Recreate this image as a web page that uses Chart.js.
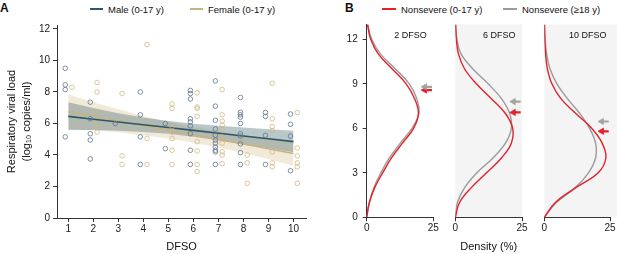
<!DOCTYPE html>
<html><head><meta charset="utf-8">
<script src="https://cdn.jsdelivr.net/npm/chart.js@4/dist/chart.umd.min.js"></script>
<style>
html,body{margin:0;padding:0;background:#fff;}
body{width:617px;height:254px;position:relative;overflow:hidden;font-family:"Liberation Sans",Arial,Helvetica,sans-serif;}
canvas{position:absolute;top:0;}
.t{position:absolute;white-space:nowrap;color:#111;}
.leg{position:absolute;white-space:nowrap;font-size:9.5px;line-height:11px;color:#111;}
.sw{position:absolute;height:2px;}
.letter{position:absolute;font-weight:bold;font-size:12px;line-height:14px;color:#111;}
</style></head><body>
<div class="letter" style="left:0;top:1px">A</div>
<div class="letter" style="left:345px;top:1px">B</div>
<div id="legA"></div>
<div id="legB"></div>
<canvas id="cA" width="320" height="254" style="left:0"></canvas>
<canvas id="cB1" width="110" height="254" style="left:340px"></canvas>
<canvas id="cB2" width="95" height="254" style="left:445px"></canvas>
<canvas id="cB3" width="83" height="254" style="left:534px"></canvas>
<script>
// ================= DATA =================
// Panel A: days from symptom onset and viral loads (log10 copies/ml)
const dfso = [1, 2, 3, 4, 5, 6, 7, 8, 9, 10];
const seriesA = ['Male (0-17 y)', 'Female (0-17 y)'];
const maleVL = [
  [9.5, 8.45, 8.15, 5.15],
  [7.35, 6.3, 5.35, 4.95, 3.75],
  [6.0],
  [8.0, 6.55, 5.15, 3.4],
  [6.0, 4.4],
  [8.1, 7.9, 7.55, 6.3, 6.1, 5.85, 5.35, 4.3, 3.4],
  [8.7, 7.1, 6.2, 5.65, 5.25, 4.95, 4.75, 4.5, 4.3, 4.2, 3.4],
  [7.65, 6.7, 6.55, 6.4, 6.0, 5.35, 5.2, 4.7, 4.15, 3.4],
  [6.7, 6.45, 5.25, 3.4],
  [6.6, 5.95, 5.2, 3.0]
];
const femaleVL = [
  [8.3],
  [8.6, 8.0, 6.75, 5.9, 5.45],
  [7.9, 3.95, 3.4],
  [11.0, 5.05, 3.4],
  [7.25, 6.95, 5.8, 5.45, 5.05, 4.3, 3.4],
  [7.95, 7.05, 6.95, 6.45, 4.85, 4.25, 3.4, 2.95],
  [8.15, 6.55, 6.15, 5.9, 5.6, 5.15, 4.75, 4.2, 4.0, 3.45],
  [4.0, 3.5, 2.2],
  [8.55, 6.3, 5.8, 5.55, 4.2, 3.5, 3.25],
  [6.7, 4.45, 3.95, 3.5, 3.25, 2.2]
];
// fitted trends and 95% bands (read at each DFSO)
const maleFit   = [6.45, 6.27, 6.09, 5.92, 5.74, 5.56, 5.38, 5.20, 5.03, 4.85];
const maleHi    = [7.35, 6.98, 6.65, 6.38, 6.15, 5.98, 5.85, 5.74, 5.63, 5.53];
const maleLo    = [5.58, 5.58, 5.54, 5.46, 5.34, 5.16, 4.92, 4.66, 4.42, 4.17];
const femaleFit = [6.75, 6.46, 6.16, 5.87, 5.57, 5.28, 4.98, 4.69, 4.39, 4.10];
const femaleHi  = [7.85, 7.35, 6.90, 6.48, 6.10, 5.78, 5.50, 5.26, 5.05, 4.88];
const femaleLo  = [5.65, 5.57, 5.44, 5.26, 5.04, 4.78, 4.47, 4.12, 3.73, 3.32];
const xTicksA = [1, 2, 3, 4, 5, 6, 7, 8, 9, 10];
const yTicksA = [0, 2, 4, 6, 8, 10, 12];

// Panel B: density (%) of viral load at given DFSO
const seriesB = ['Nonsevere (0-17 y)', 'Nonsevere (\u226518 y)'];
const panelsB = ['2 DFSO', '6 DFSO', '10 DFSO'];
const loadGrid = [0, 1, 2, 3, 4, 5, 6, 7, 8, 9, 10, 11, 12, 13];
const childDens2  = [0, 1.0, 3.0, 6.0, 9.3, 13.4, 17.6, 19.4, 18.0, 14.8, 9.6, 4.4, 1.5, 0.3];
const adultDens2  = [0, 1.0, 2.7, 5.3, 8.5, 12.6, 17.0, 19.6, 18.8, 16.0, 10.8, 5.2, 1.9, 0.4];
const childDens6  = [0, 1.6, 6.0, 11.7, 17.3, 21.0, 21.5, 18.8, 13.5, 7.9, 3.5, 1.2, 0.4, 0.1];
const adultDens6  = [0, 0.8, 3.5, 8.1, 14.1, 18.8, 21.0, 20.4, 17.3, 12.3, 6.6, 2.2, 0.6, 0.1];
const childDens10 = [0, 4.2, 12.0, 20.5, 23.4, 22.0, 18.0, 12.0, 6.3, 2.9, 1.2, 0.5, 0.2, 0.05];
const adultDens10 = [0, 4.6, 11.8, 16.8, 19.5, 19.5, 17.2, 13.5, 8.8, 4.8, 2.2, 0.9, 0.3, 0.1];
const childMean = [8.58, 7.07, 5.8];
const adultMean = [8.8, 7.8, 6.46];
const xTicksB = [0, 25];
const yTicksB = [0, 3, 6, 9, 12];

// ================= STYLE =================
const FONT = '"Liberation Sans", Arial, Helvetica, sans-serif';
Chart.defaults.font.family = FONT;
Chart.defaults.color = '#1a1a1a';
Chart.defaults.animation = false;
const AXIS = '#333';
const MALE_LINE = '#2d5668', MALE_DOT = 'rgba(98,120,142,0.9)', MALE_BAND = 'rgba(60,100,105,0.36)';
const FEM_LINE = '#c8b282', FEM_DOT = 'rgba(206,182,128,0.85)', FEM_BAND = 'rgba(212,186,130,0.3)';
const RED = '#e5202a', GREY = '#9b9b9b';
const DODGE_M = -0.12, DODGE_F = 0.15;
const ARROW_TAIL = 24.5, ARROW_HEAD = 21.8;

// ================= LEGENDS (HTML) =================
function legend(el, items) {
  const host = document.getElementById(el);
  items.forEach(it => {
    const s = document.createElement('div');
    s.className = 'sw';
    s.style.cssText = `left:${it.x}px;top:8px;width:${it.w}px;background:${it.color}`;
    host.appendChild(s);
    const t = document.createElement('div');
    t.className = 'leg';
    t.style.cssText = `left:${it.x + it.w + 5}px;top:4px`;
    t.textContent = it.label;
    host.appendChild(t);
  });
}
legend('legA', [
  {label: seriesA[0], color: MALE_LINE, x: 90, w: 13},
  {label: seriesA[1], color: FEM_LINE, x: 190, w: 13}
]);
legend('legB', [
  {label: seriesB[0], color: RED, x: 382, w: 14},
  {label: seriesB[1], color: GREY, x: 503, w: 14}
]);

// ================= PANEL A =================
const pts = (lists, dx) => lists.flatMap((vals, i) => vals.map(v => ({x: dfso[i] + dx, y: v})));
const curve = arr => arr.map((v, i) => ({x: dfso[i], y: v}));
const bandDs = (arr, color, fill, order) => ({
  data: curve(arr), showLine: true, pointRadius: 0, borderWidth: 0,
  borderColor: 'rgba(0,0,0,0)', backgroundColor: color, fill: fill, order: order
});

new Chart(document.getElementById('cA'), {
  type: 'line',
  data: {datasets: [
    {label: seriesA[0], data: pts(maleVL, DODGE_M), showLine: false, pointRadius: 2.3, pointBorderWidth: 0.9,
     pointBorderColor: MALE_DOT, pointBackgroundColor: 'rgba(0,0,0,0)', order: 0},
    {label: seriesA[1], data: pts(femaleVL, DODGE_F), showLine: false, pointRadius: 2.3, pointBorderWidth: 0.9,
     pointBorderColor: FEM_DOT, pointBackgroundColor: 'rgba(0,0,0,0)', order: 0},
    {data: curve(maleFit), showLine: true, pointRadius: 0, borderColor: MALE_LINE, borderWidth: 1.6, tension: 0, order: 2},
    {data: curve(femaleFit), showLine: true, pointRadius: 0, borderColor: FEM_LINE, borderWidth: 1.5, tension: 0, order: 3},
    bandDs(femaleHi, FEM_BAND, false, 6),
    bandDs(femaleLo, FEM_BAND, 4, 6),
    bandDs(maleHi, MALE_BAND, false, 5),
    bandDs(maleLo, MALE_BAND, 6, 5)
  ]},
  options: {
    responsive: false, events: [],
    layout: {padding: {left: 0, right: 14, top: 25, bottom: 0}},
    plugins: {legend: {display: false}, tooltip: {enabled: false}},
    scales: {
      x: {type: 'linear', min: 0.55, max: 10.5,
        afterBuildTicks: s => { s.ticks = xTicksA.map(v => ({value: v})); },
        afterFit: s => { s.height = 36; },
        grid: {drawOnChartArea: false, drawTicks: true, tickLength: 4, tickColor: AXIS},
        border: {display: true, color: AXIS, width: 1},
        ticks: {font: {size: 10}, padding: 1, color: '#1a1a1a', maxRotation: 0},
        title: {display: true, text: 'DFSO', font: {size: 11}, padding: {top: 0, bottom: 0}, color: '#111'}
      },
      y: {type: 'linear', min: 0, max: 12.25,
        afterBuildTicks: s => { s.ticks = yTicksA.map(v => ({value: v})); },
        afterFit: s => { s.width = 57; },
        grid: {drawOnChartArea: false, drawTicks: true, tickLength: 4, tickColor: AXIS},
        border: {display: true, color: AXIS, width: 1},
        ticks: {font: {size: 10}, padding: 3, color: '#1a1a1a'},
        title: {display: true, text: ['Respiratory viral load', '(log\u2081\u2080 copies/ml)'],
          font: {size: 11, lineHeight: 1.36}, padding: {top: 4.5, bottom: 0}, color: '#111'}
      }
    }
  }
});

// ================= PANEL B =================
const panelBg = {
  id: 'panelBg',
  beforeDraw(chart, args, o) {
    if (!o || !o.color) return;
    const {ctx, chartArea: a} = chart;
    ctx.save();
    ctx.fillStyle = o.color;
    ctx.fillRect(a.left, a.top, (o.toEdge ? chart.width : a.right) - a.left, a.bottom - a.top);
    ctx.restore();
  }
};
const panelTitle = {
  id: 'panelTitle',
  afterDraw(chart, args, o) {
    if (!o || !o.text) return;
    const {ctx, chartArea: a} = chart;
    ctx.save();
    ctx.font = '9px ' + FONT;
    ctx.fillStyle = '#111';
    ctx.textAlign = 'center';
    ctx.textBaseline = 'middle';
    ctx.fillText(o.text, (a.left + a.right) / 2 + 10.5, a.top + 11);
    ctx.restore();
  }
};
const dens = arr => arr.map((v, i) => ({x: v, y: loadGrid[i]}));
const arrow = (m, color) => ({
  data: [{x: ARROW_TAIL, y: m}, {x: ARROW_HEAD, y: m}], showLine: true, borderColor: color, borderWidth: 2.2,
  pointRadius: [0, 3.6], pointStyle: 'triangle', pointRotation: 270, pointBackgroundColor: color,
  pointBorderColor: color, pointBorderWidth: 0.8, tension: 0, order: 0
});

function makeB(id, i, child, adult, cfg) {
  new Chart(document.getElementById(id), {
    type: 'line',
    data: {datasets: [
      {label: seriesB[0], data: dens(child), showLine: true, pointRadius: 0, borderColor: RED, borderWidth: 1.4, tension: 0.4, order: 1},
      {label: seriesB[1], data: dens(adult), showLine: true, pointRadius: 0, borderColor: GREY, borderWidth: 1.4, tension: 0.4, order: 2},
      arrow(adultMean[i], '#a3a3a3'),
      arrow(childMean[i], RED)
    ]},
    options: {
      responsive: false, events: [],
      layout: {padding: cfg.padding},
      plugins: {legend: {display: false}, tooltip: {enabled: false},
        panelBg: {color: cfg.bg, toEdge: cfg.toEdge}, panelTitle: {text: panelsB[i]}},
      scales: {
        x: {type: 'linear', min: 0, max: 25,
          afterBuildTicks: s => { s.ticks = xTicksB.map(v => ({value: v})); },
          afterFit: s => { s.height = 36.7; },
          grid: {drawOnChartArea: false, drawTicks: true, tickLength: 4, tickColor: AXIS},
          border: {display: true, color: AXIS, width: 1},
          ticks: {font: {size: 10}, padding: 1.4, color: '#1a1a1a', maxRotation: 0},
          title: {display: !!cfg.xTitle, text: cfg.xTitle || '', font: {size: 11}, padding: {top: 0, bottom: 0}, color: '#111'}
        },
        y: {type: 'linear', min: 0, max: 13, display: cfg.showY,
          afterBuildTicks: s => { s.ticks = yTicksB.map(v => ({value: v})); },
          afterFit: s => { s.width = cfg.showY ? 26.7 : 0; },
          grid: {drawOnChartArea: false, drawTicks: true, tickLength: 4, tickColor: AXIS},
          border: {display: true, color: AXIS, width: 1},
          ticks: {font: {size: 10}, padding: 5, color: '#1a1a1a'}
        }
      }
    },
    plugins: [panelBg, panelTitle]
  });
}
makeB('cB1', 0, childDens2, adultDens2, {padding: {left: 0, right: 16.7, top: 24.5, bottom: 0}, showY: true});
makeB('cB2', 1, childDens6, adultDens6, {padding: {left: 10.3, right: 18, top: 24.5, bottom: 0}, showY: false, bg: '#f4f4f4', xTitle: 'Density (%)'});
makeB('cB3', 2, childDens10, adultDens10, {padding: {left: 10.3, right: 6, top: 24.5, bottom: 0}, showY: false, bg: '#f4f4f4', toEdge: true});
</script>
</body></html>
